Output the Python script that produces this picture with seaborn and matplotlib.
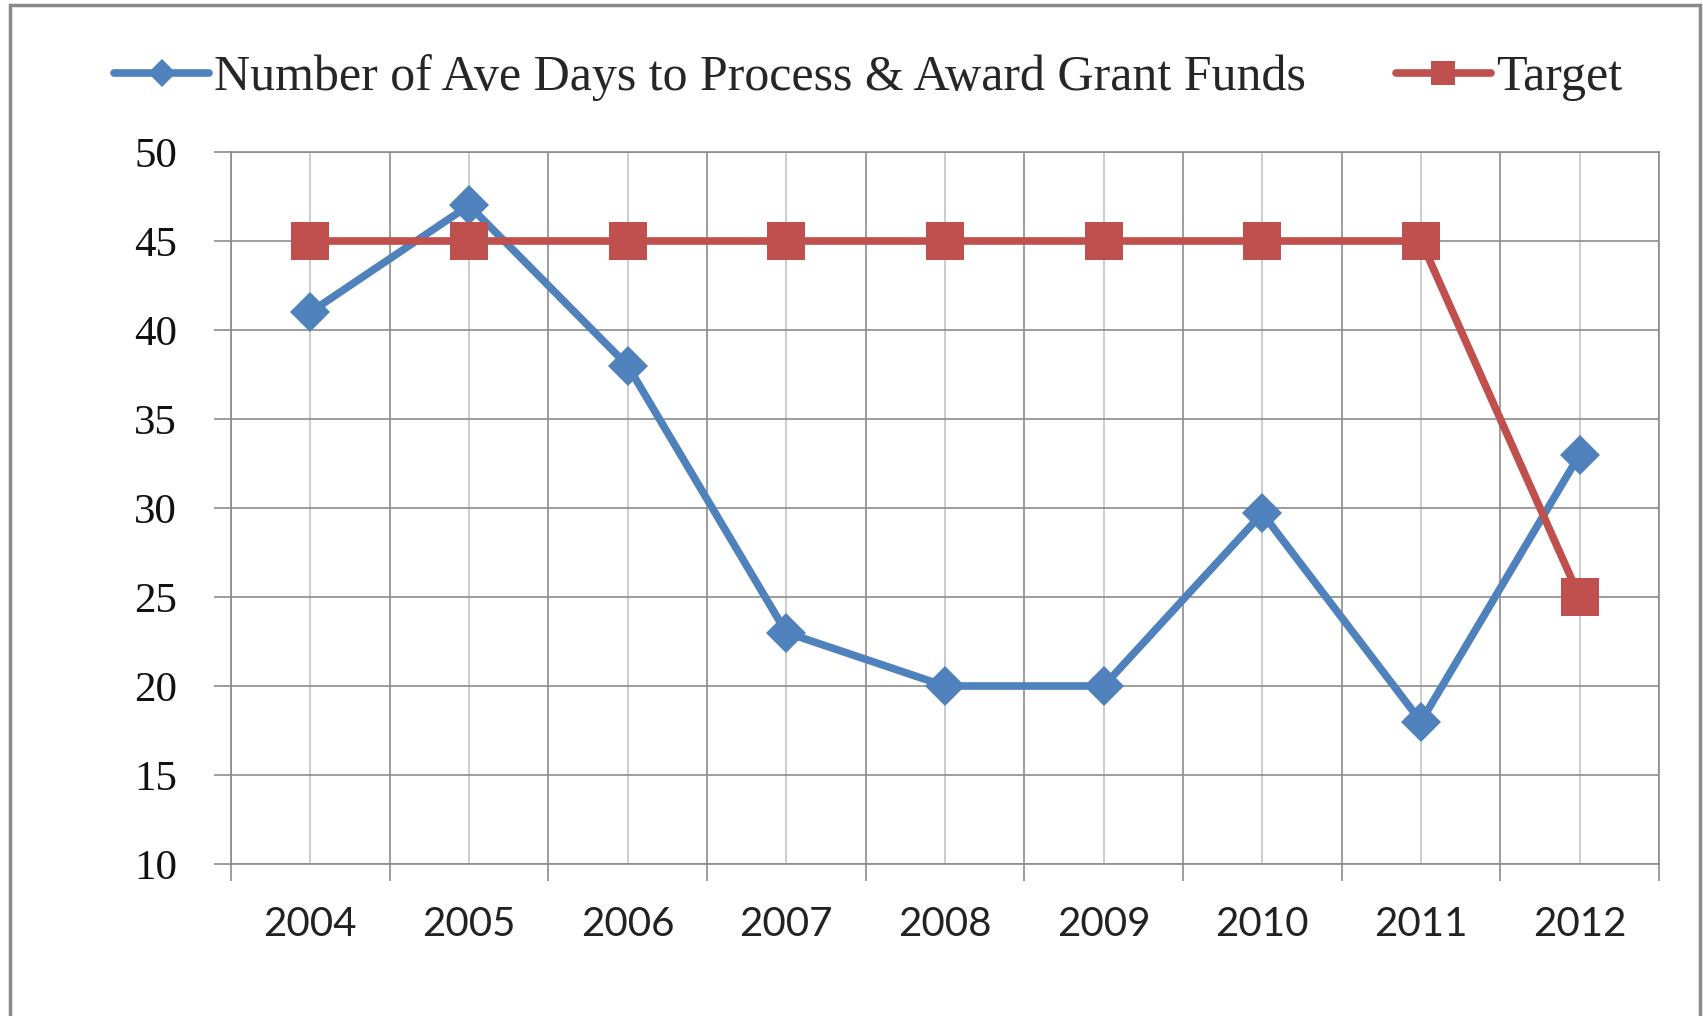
import seaborn as sns
import matplotlib.pyplot as plt
import pandas as pd
from matplotlib.patches import Rectangle
from matplotlib.ticker import FixedLocator

# -----------------------
# Data
# -----------------------
years = ["2004", "2005", "2006", "2007", "2008", "2009", "2010", "2011", "2012"]
avg_days = [41, 47, 38, 23, 20, 20, 29.7, 18, 33]
target = [45, 45, 45, 45, 45, 45, 45, 45, 25]
series_labels = ["Number of Ave Days to Process & Award Grant Funds", "Target"]
y_ticks = [10, 15, 20, 25, 30, 35, 40, 45, 50]

df = pd.DataFrame({"Year": years, "Days": avg_days, "Target": target})

blue = "#4F81BD"
red = "#C0504D"
grid_dark = "#8c8c8c"
grid_light = "#c4c4c4"

# -----------------------
# Plot
# -----------------------
sns.set_style("white")
fig = plt.figure(figsize=(17.03, 10.16), dpi=100)
ax = fig.add_axes([231 / 1703, 1 - 864 / 1016, (1659 - 231) / 1703, (864 - 152) / 1016])

sns.lineplot(data=df, x="Year", y="Days", color=blue, linewidth=5.5,
             marker="D", markersize=20, markeredgewidth=0,
             label=series_labels[0], ax=ax, zorder=3)
sns.lineplot(data=df, x="Year", y="Target", color=red, linewidth=5.5,
             marker="s", markersize=27, markeredgewidth=0,
             label=series_labels[1], ax=ax, zorder=4)

ax.set_xlim(-0.5, len(years) - 0.5)
ax.set_ylim(10, 50)
ax.set_yticks(y_ticks)
ax.set_xlabel("")
ax.set_ylabel("")

# grid: dark horizontals + category boundaries, light category centres
ax.xaxis.set_minor_locator(FixedLocator([i - 0.5 for i in range(len(years) + 1)]))
ax.set_axisbelow(True)
ax.grid(axis="y", which="major", color=grid_dark, linewidth=1.2)
ax.grid(axis="x", which="minor", color=grid_dark, linewidth=1.2)
ax.grid(axis="x", which="major", color=grid_light, linewidth=1.2)

ax.tick_params(axis="x", which="major", bottom=True, length=0, pad=30, labelsize=29)
ax.tick_params(axis="x", which="minor", bottom=True, length=12, width=1.2,
               color=grid_dark, direction="out")
ax.tick_params(axis="y", which="major", left=True, length=12, width=1.2, color=grid_dark,
               direction="out", pad=27, labelsize=31)
for lab in ax.get_xticklabels():
    lab.set_family(["Lato", "DejaVu Sans"])
    lab.set_color("#222222")
for lab in ax.get_yticklabels():
    lab.set_family(["Liberation Serif", "DejaVu Serif"])
    lab.set_color("#111111")

for side in ["left", "right", "top", "bottom"]:
    ax.spines[side].set_color(grid_dark)
    ax.spines[side].set_linewidth(1.2)

# legend across the top
ax.get_legend().remove()
handles, labels = ax.get_legend_handles_labels()
leg = fig.legend(handles, labels, loc="center left",
                 bbox_to_anchor=(114 / 1703, 1 - 78 / 1016), ncol=2, frameon=False,
                 prop={"family": ["Liberation Serif", "DejaVu Serif"], "size": 36},
                 handlelength=1.9, handletextpad=0.1, columnspacing=1.8,
                 borderpad=0, borderaxespad=0)
leg_lines = leg.get_lines()
leg_lines[0].set_markersize(14)
leg_lines[1].set_markersize(17)

# outer grey frame
fig.patches.append(Rectangle((10 / 1703, -0.05), (1700 - 10) / 1703, 1.05 - 5 / 1016,
                             transform=fig.transFigure, fill=False,
                             edgecolor="#8a8a8a", linewidth=2.5))

plt.savefig("out.png", dpi=100)
